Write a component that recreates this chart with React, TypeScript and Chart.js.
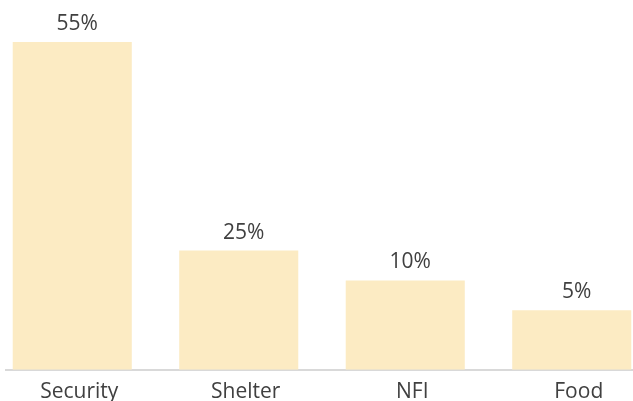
import React, { useEffect, useRef } from "react";
import { Chart, registerables } from "chart.js";

Chart.register(...registerables);

const categories = ["Security", "Shelter", "NFI", "Food"];
const values = [55, 20, 15, 10];
const valueLabels = ["55%", "25%", "10%", "5%"];

const FONT = "'Open Sans', 'Noto Sans', sans-serif";

const labelPlugin = {
  id: "barLabels",
  afterDatasetsDraw(chart: any) {
    const ctx = chart.ctx;
    const meta = chart.getDatasetMeta(0);
    ctx.save();
    ctx.font = `21px ${FONT}`;
    ctx.fillStyle = "#404040";
    ctx.textAlign = "center";
    ctx.textBaseline = "alphabetic";
    meta.data.forEach((bar: any, i: number) => {
      ctx.fillText(valueLabels[i], bar.x + 5, bar.y - 12);
    });
    ctx.restore();
  },
};

export default function App() {
  const ref = useRef<HTMLCanvasElement>(null);
  useEffect(() => {
    if (!ref.current) return;
    const chart = new Chart(ref.current, {
      type: "bar",
      data: {
        labels: categories,
        datasets: [
          {
            data: values,
            backgroundColor: "#FCEBC3",
            borderWidth: 0,
            barPercentage: 0.715,
            categoryPercentage: 1,
          },
        ],
      },
      options: {
        animation: false,
        responsive: false,
        maintainAspectRatio: false,
        layout: { padding: { top: 42, left: 0, right: 0, bottom: 0 } },
        plugins: { legend: { display: false }, tooltip: { enabled: false } },
        scales: {
          x: {
            grid: { display: false, drawTicks: false },
            border: { display: true, color: "#D9D9D9", width: 2 },
            ticks: {
              color: "#404040",
              font: { family: FONT, size: 21 },
              padding: 10,
              labelOffset: 7,
            },
          },
          y: {
            display: false,
            min: 0,
            max: 55,
          },
        },
      },
      plugins: [labelPlugin],
    });
    return () => chart.destroy();
  }, []);

  return (
    <div
      style={{
        position: "fixed",
        left: 0,
        top: 0,
        width: 633,
        height: 401,
        overflow: "hidden",
        background: "#fff",
      }}
    >
      <div
        style={{
          position: "absolute",
          left: 5,
          top: 0,
          width: 628,
          height: 401,
          overflow: "hidden",
        }}
      >
        <canvas
          ref={ref}
          width={666}
          height={415}
          style={{ position: "absolute", left: -16, top: 0, width: 666, height: 415 }}
        />
      </div>
    </div>
  );
}
